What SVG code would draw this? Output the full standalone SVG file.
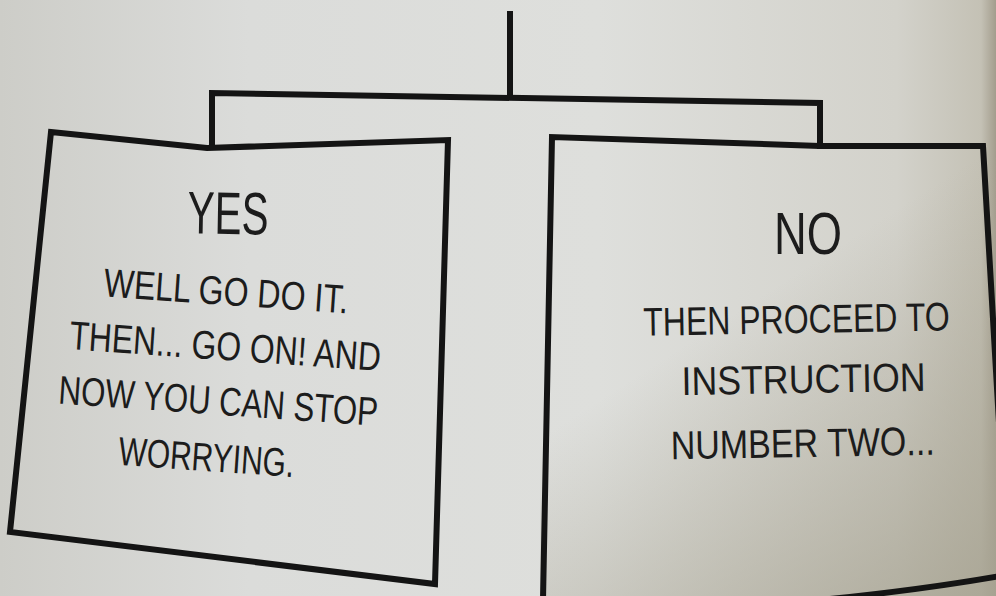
<svg xmlns="http://www.w3.org/2000/svg" width="996" height="596" viewBox="0 0 996 596">
<defs>
<linearGradient id="paper" x1="0" y1="0" x2="1" y2="0">
<stop offset="0" stop-color="#cdcdc8"/>
<stop offset="0.25" stop-color="#dbdcda"/>
<stop offset="0.6" stop-color="#dedfdc"/>
<stop offset="0.9" stop-color="#d3d2cb"/>
<stop offset="0.985" stop-color="#c4c1b5"/>
<stop offset="1" stop-color="#a39d8d"/>
</linearGradient>
<linearGradient id="shade" x1="0.55" y1="0.3" x2="1" y2="1">
<stop offset="0" stop-color="#a7a392" stop-opacity="0"/>
<stop offset="1" stop-color="#a7a392" stop-opacity="0.85"/>
</linearGradient>
<style>
.ln{fill:none;stroke:#141414;stroke-width:6;stroke-linejoin:miter;stroke-linecap:square}
.box{fill:none;stroke:#141414;stroke-width:6;stroke-linejoin:miter}
.t{font-family:"Liberation Sans",Arial,sans-serif;fill:#1c1c1c;text-anchor:middle}
.h{font-size:60px}
.b{font-size:40px}
</style>
</defs>
<rect width="996" height="596" fill="url(#paper)"/>
<rect x="540" y="140" width="456" height="456" fill="url(#shade)"/>
<g id="connectors">
<path class="ln" d="M510 14 L510 96"/>
<path class="ln" d="M212 146 L212 93 L820 103 L820 146"/>
</g>
<g id="yes">
<path class="box" d="M51 132 L207 148 L448 140 L435 584 L10 532 Z"/>
<text class="t h" x="228" y="234" textLength="81" lengthAdjust="spacingAndGlyphs" transform="rotate(1 228 215)">YES</text>
<g transform="rotate(4 225 350)">
<text class="t b" x="222" y="305" textLength="245" lengthAdjust="spacingAndGlyphs">WELL GO DO IT.</text>
<text class="t b" x="225" y="360" textLength="312" lengthAdjust="spacingAndGlyphs">THEN... GO ON! AND</text>
<text class="t b" x="222" y="415" textLength="320" lengthAdjust="spacingAndGlyphs">NOW YOU CAN STOP</text>
<text class="t b" x="214" y="472" textLength="176" lengthAdjust="spacingAndGlyphs">WORRYING.</text>
</g>
</g>
<g id="no">
<path class="box" d="M543 600 L552 137 L820 146 L983 146 L1000 440"/>
<path class="box" d="M820 600 Q 920 590 1000 576"/>
<text class="t h" x="808" y="254" textLength="68" lengthAdjust="spacingAndGlyphs">NO</text>
<g transform="rotate(-1 800 350)">
<g transform="translate(797 333) scale(0.8 1)"><text class="t b" x="0" y="0">THEN PROCEED TO</text></g>
<text class="t b" x="803" y="393" textLength="244" lengthAdjust="spacingAndGlyphs">INSTRUCTION</text>
<text class="t b" x="801" y="457" textLength="264" lengthAdjust="spacingAndGlyphs">NUMBER TWO...</text>
</g>
</g>
</svg>
